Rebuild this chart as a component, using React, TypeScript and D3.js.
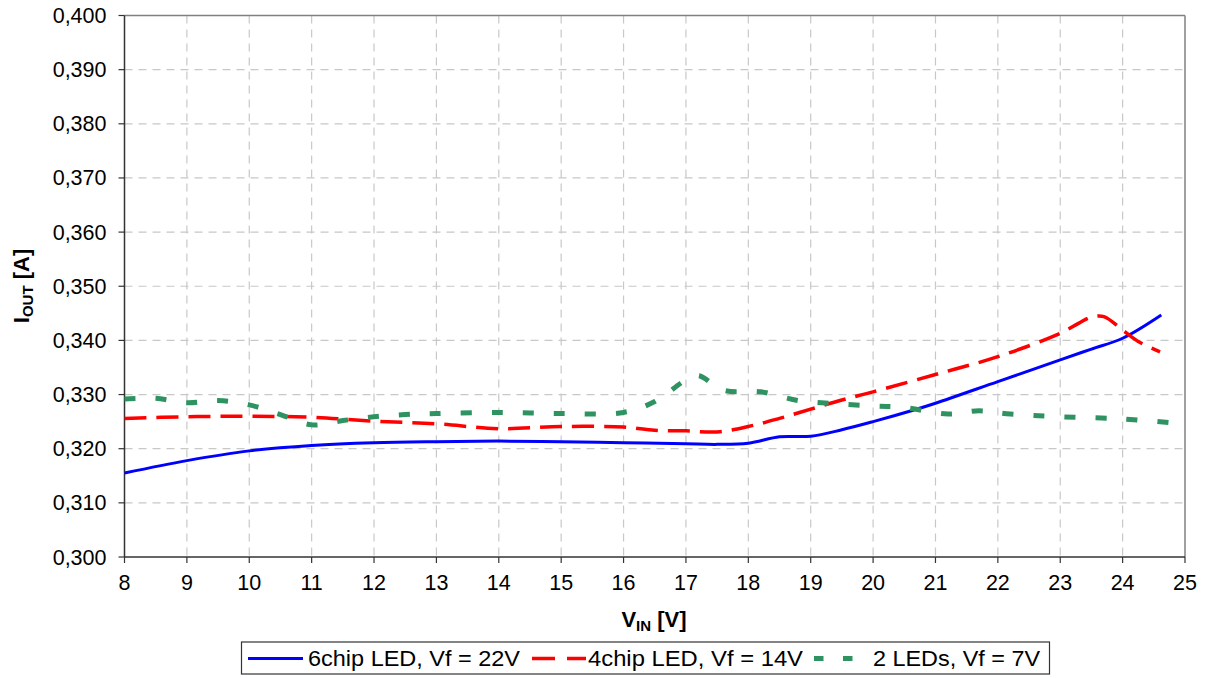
import React from "react";
import * as d3 from "d3";

const xTicks = [8, 9, 10, 11, 12, 13, 14, 15, 16, 17, 18, 19, 20, 21, 22, 23, 24, 25];
const yTicks = [0.3, 0.31, 0.32, 0.33, 0.34, 0.35, 0.36, 0.37, 0.38, 0.39, 0.4];

const blueX = [8, 9, 10, 11, 12, 13, 14, 15, 16, 17, 17.5, 18, 18.5, 19, 19.5, 20, 20.64, 21, 22, 23, 23.5, 24, 24.62];
const blueY = [0.3155, 0.3178, 0.3196, 0.3206, 0.3211, 0.3213, 0.3214, 0.3213, 0.3211, 0.3209, 0.3208, 0.321, 0.3222, 0.3223, 0.3235, 0.325, 0.3271, 0.3284, 0.3324, 0.3364, 0.3384, 0.3404, 0.3447];

const redX = [8, 9, 10, 11, 12, 13, 14, 15, 16, 16.5, 17, 17.5, 18, 18.5, 19, 19.5, 20, 21, 22, 23, 23.3, 23.5, 23.7, 24, 24.25, 24.6];
const redY = [0.3256, 0.3259, 0.326, 0.3258, 0.3251, 0.3246, 0.3237, 0.3241, 0.324, 0.3234, 0.3233, 0.3231, 0.3241, 0.3256, 0.3273, 0.329, 0.3305, 0.3337, 0.337, 0.3413, 0.3432, 0.3443, 0.3444, 0.3419, 0.3398, 0.3379];

const greenX = [8, 8.5, 9, 9.5, 10, 10.5, 11, 11.5, 12, 12.5, 13, 14, 15, 16, 16.5, 17, 17.2, 17.6, 18.2, 18.8, 19.4, 20, 20.5, 21.2, 21.7, 22.2, 23, 24, 24.85];
const greenY = [0.3292, 0.3293, 0.3285, 0.3289, 0.3281, 0.3263, 0.3244, 0.3252, 0.3259, 0.3263, 0.3265, 0.3267, 0.3265, 0.3267, 0.3287, 0.3327, 0.3335, 0.3308, 0.3305, 0.3289, 0.3283, 0.3279, 0.3276, 0.3264, 0.327, 0.3264, 0.3259, 0.3255, 0.3247];

const seriesNames = ["6chip LED, Vf = 22V", "4chip LED, Vf = 14V", "2 LEDs, Vf = 7V"];

const W = 1210;
const H = 678;
const left = 124.5;
const right = 1185;
const top = 15.5;
const bottom = 557;

const font = "'Liberation Sans', Arial, sans-serif";

export default function App() {
  const x = d3.scaleLinear().domain([8, 25]).range([left, right]);
  const y = d3.scaleLinear().domain([0.3, 0.4]).range([bottom, top]);
  const line = d3
    .line<[number, number]>()
    .x((d) => x(d[0]))
    .y((d) => y(d[1]))
    .curve(d3.curveCatmullRom.alpha(0.5));
  const zip = (a: number[], b: number[]) => a.map((v, i) => [v, b[i]] as [number, number]);

  const series = [
    { d: zip(blueX, blueY), color: "#0000ff", w: 3, dash: undefined as string | undefined },
    { d: zip(redX, redY), color: "#ff0000", w: 3.5, dash: "22,10" },
    { d: zip(greenX, greenY), color: "#2e9361", w: 5, dash: "11,20" },
  ];

  return (
    <svg width={W} height={H} style={{ position: "absolute", left: 0, top: 0, background: "#fff" }} fontFamily={font}>
      <rect x={0} y={0} width={W} height={H} fill="#fff" />
      {xTicks.slice(1, -1).map((t) => (
        <line key={"gx" + t} x1={x(t)} x2={x(t)} y1={top} y2={bottom} stroke="#c8c8c8" strokeWidth={1.2} strokeDasharray="8,6" />
      ))}
      {yTicks.slice(1, -1).map((t) => (
        <line key={"gy" + t} x1={left} x2={right} y1={y(t)} y2={y(t)} stroke="#c8c8c8" strokeWidth={1.2} strokeDasharray="8,6" />
      ))}
      <line x1={left} x2={right} y1={top} y2={top} stroke="#808080" strokeWidth={1.5} />
      <line x1={right} x2={right} y1={top} y2={bottom} stroke="#808080" strokeWidth={1.5} />
      <line x1={left} x2={left} y1={top} y2={bottom} stroke="#333" strokeWidth={1.5} />
      <line x1={left} x2={right} y1={bottom} y2={bottom} stroke="#333" strokeWidth={1.5} />
      {yTicks.map((t) => (
        <g key={"yt" + t}>
          <line x1={left - 6} x2={left} y1={y(t)} y2={y(t)} stroke="#333" strokeWidth={1.2} />
          <text x={left - 18} y={y(t)} dy="0.35em" textAnchor="end" fontSize={21.5} fill="#000">
            {d3.format(".3f")(t).replace(".", ",")}
          </text>
        </g>
      ))}
      {xTicks.map((t) => (
        <g key={"xt" + t}>
          <line x1={x(t)} x2={x(t)} y1={bottom} y2={bottom + 6} stroke="#333" strokeWidth={1.2} />
          <text x={x(t)} y={bottom + 33} textAnchor="middle" fontSize={21.5} fill="#000">
            {t}
          </text>
        </g>
      ))}
      {series.map((s, i) => (
        <path key={i} d={line(s.d) || ""} fill="none" stroke={s.color} strokeWidth={s.w} strokeDasharray={s.dash} />
      ))}
      <text x={654} y={627} textAnchor="middle" fontSize={22} fontWeight="bold" fill="#000">
        V<tspan fontSize={15} dy={4}>IN</tspan>
        <tspan dy={-4}> [V]</tspan>
      </text>
      <text transform="translate(29,286) rotate(-90)" textAnchor="middle" fontSize={22} fontWeight="bold" fill="#000">
        I<tspan fontSize={15} dy={4}>OUT</tspan>
        <tspan dy={-4}> [A]</tspan>
      </text>
      <rect x={241.5} y={642} width={808} height={32} fill="#fff" stroke="#333" strokeWidth={1.2} />
      <line x1={248} x2={303} y1={658.5} y2={658.5} stroke="#0000ff" strokeWidth={3} />
      <text x={308} y={666} fontSize={22.5} fill="#000" textLength={212} lengthAdjust="spacingAndGlyphs">{seriesNames[0]}</text>
      <line x1={532} x2={586} y1={658.5} y2={658.5} stroke="#ff0000" strokeWidth={3.5} strokeDasharray="23,12" />
      <text x={588} y={666} fontSize={22.5} fill="#000" textLength={215} lengthAdjust="spacingAndGlyphs">{seriesNames[1]}</text>
      <line x1={814} x2={853} y1={658.5} y2={658.5} stroke="#2e9361" strokeWidth={5} strokeDasharray="9.5,19.5" />
      <text x={873} y={666} fontSize={22.5} fill="#000" textLength={167} lengthAdjust="spacingAndGlyphs">{seriesNames[2]}</text>
    </svg>
  );
}
